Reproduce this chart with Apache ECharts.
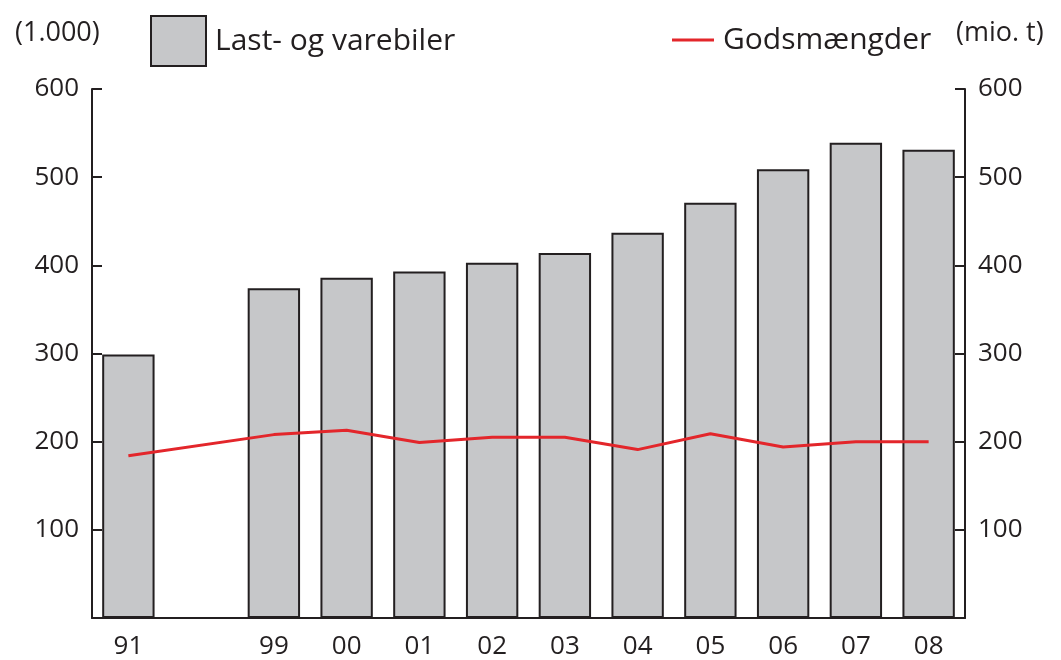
<!DOCTYPE html>
<html>
<head>
<meta charset="utf-8">
<script src="https://cdn.jsdelivr.net/npm/echarts@6/dist/echarts.min.js"></script>
<style>
  html, body { margin: 0; padding: 0; background: #fff; }
  #main { width: 1061px; height: 660px; }
</style>
</head>
<body>
<div id="main"></div>
<script>
// years on the x axis, with an empty slot between 91 and 99
var years = ['91', '', '99', '00', '01', '02', '03', '04', '05', '06', '07', '08'];
// Last- og varebiler (1.000)
var vehicles = [299, null, 374, 386, 393, 403, 414, 437, 471, 509, 539, 531];
// Godsmængder (mio. t)
var goods = [184, null, 208, 213, 199, 205, 205, 191, 209, 194, 200, 200];
var yTicks = [100, 200, 300, 400, 500, 600];

var ink = '#231f20';
var font = '"Open Sans", "Noto Sans", sans-serif';

var dom = document.getElementById('main');
var myChart = echarts.init(dom);

var option = {
    animation: false,
    grid: { left: 92, right: 96, top: 89, bottom: 40 },
    legend: [
        {
            data: [{ name: 'Last- og varebiler', icon: 'rect' }],
            left: 145, top: 10,
            itemWidth: 55, itemHeight: 50, itemGap: 10,
            textStyle: { fontFamily: font, fontSize: 30, color: ink, padding: [0, 0, 0, 4] },
            selectedMode: false
        },
        {
            data: [{ name: 'Godsmængder', icon: 'rect' }],
            left: 667, top: 20,
            itemWidth: 42, itemHeight: 3,
            textStyle: { fontFamily: font, fontSize: 30, color: ink, padding: [0, 0, 0, 4] },
            selectedMode: false
        }
    ],
    graphic: [
        { type: 'text', left: 15, top: 20, style: { text: '(1.000)', font: '27px ' + font, fill: ink } },
        { type: 'text', left: 956, top: 20, style: { text: '(mio. t)', font: '27px ' + font, fill: ink } }
    ],
    xAxis: {
        type: 'category',
        data: years,
        axisLine: { lineStyle: { color: ink, width: 2 } },
        axisTick: { inside: true, length: 12, lineStyle: { color: ink, width: 2 } },
        axisLabel: { margin: 16, fontFamily: font, fontSize: 26, color: ink }
    },
    yAxis: [
        {
            type: 'value', min: 0, max: 600, interval: 100,
            axisLine: { show: true, lineStyle: { color: ink, width: 2 } },
            axisTick: { show: true, inside: true, length: 10, lineStyle: { color: ink, width: 2 } },
            axisLabel: {
                margin: 13, fontFamily: font, fontSize: 26, color: ink,
                formatter: function (v) { return yTicks.indexOf(v) >= 0 ? v : ''; }
            },
            splitLine: { show: false }
        },
        {
            type: 'value', min: 0, max: 600, interval: 100, position: 'right',
            axisLine: { show: true, lineStyle: { color: ink, width: 2 } },
            axisTick: { show: true, inside: true, length: 10, lineStyle: { color: ink, width: 2 } },
            axisLabel: {
                margin: 13, fontFamily: font, fontSize: 26, color: ink,
                formatter: function (v) { return yTicks.indexOf(v) >= 0 ? v : ''; }
            },
            splitLine: { show: false }
        }
    ],
    series: [
        {
            name: 'Last- og varebiler',
            type: 'bar',
            data: vehicles,
            barWidth: '72%',
            itemStyle: { color: '#c6c7c9', borderColor: ink, borderWidth: 2 }
        },
        {
            name: 'Godsmængder',
            type: 'line',
            yAxisIndex: 1,
            data: goods,
            connectNulls: true,
            symbol: 'none',
            lineStyle: { color: '#e3262b', width: 3 },
            itemStyle: { color: '#e3262b' }
        }
    ]
};

if (option && typeof option === "object") {
    myChart.setOption(option, true);
}
</script>
</body>
</html>
